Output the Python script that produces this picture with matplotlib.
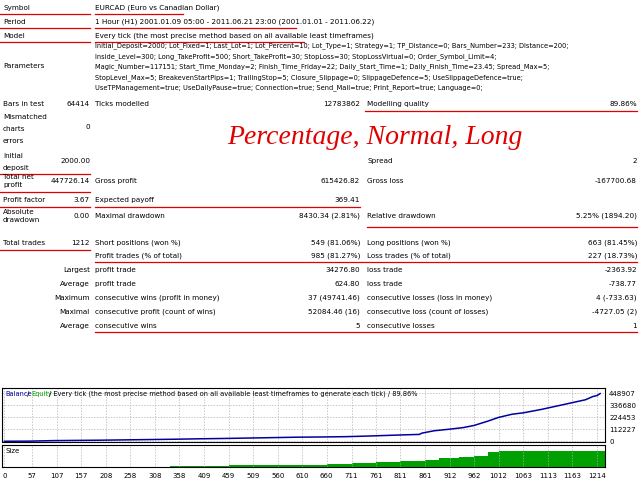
import numpy as np
import matplotlib.pyplot as plt
from matplotlib.lines import Line2D

W, H = 640, 480

# report rows: (label, value, y_px)
header_rows = [
    ("Symbol", "EURCAD (Euro vs Canadian Dollar)", 8),
    ("Period", "1 Hour (H1) 2001.01.09 05:00 - 2011.06.21 23:00 (2001.01.01 - 2011.06.22)", 22),
    ("Model", "Every tick (the most precise method based on all available least timeframes)", 36),
]
param_lines = [
    "Initial_Deposit=2000; Lot_Fixed=1; Last_Lot=1; Lot_Percent=10; Lot_Type=1; Strategy=1; TP_Distance=0; Bars_Number=233; Distance=200;",
    "Inside_Level=300; Long_TakeProfit=500; Short_TakeProfit=30; StopLoss=30; StopLossVirtual=0; Order_Symbol_Limit=4;",
    "Magic_Number=117151; Start_Time_Monday=2; Finish_Time_Friday=22; Daily_Start_Time=1; Daily_Finish_Time=23.45; Spread_Max=5;",
    "StopLevel_Max=5; BreakevenStartPips=1; TrailingStop=5; Closure_Slippage=0; SlippageDefence=5; UseSlippageDefence=true;",
    "UseTPManagement=true; UseDailyPause=true; Connection=true; Send_Mail=true; Print_Report=true; Language=0;",
]

# balance curve (trade number, balance)
bal_x = [0, 50, 100, 150, 200, 250, 300, 350, 400, 450, 500, 550, 600, 650, 700, 740, 780, 820, 850, 855,
         880, 912, 940, 962, 990, 1012, 1040, 1063, 1100, 1130, 1160, 1190, 1205, 1214, 1220]
bal_y = [2000, 3000, 8000, 10000, 12000, 15000, 18000, 21000, 25000, 28000, 32000, 36000, 40000, 42000, 45000,
         50000, 56000, 62000, 66000, 78000, 100000, 115000, 130000, 150000, 190000, 225000, 255000, 268000,
         300000, 330000, 360000, 390000, 420000, 430000, 448000]
size_x = [340, 459, 560, 660, 711, 761, 811, 861, 890, 930, 962, 990, 1012, 1230]
size_y = [0.05, 0.1, 0.15, 0.2, 0.25, 0.3, 0.35, 0.45, 0.55, 0.6, 0.7, 0.9, 1.0, 1.0]
y_ticks = [0, 112227, 224453, 336680, 448907]
x_ticks = [0, 57, 107, 157, 208, 258, 308, 358, 409, 459, 509, 560, 610, 660, 711, 761, 811, 861, 912, 962,
           1012, 1063, 1113, 1163, 1214]

fig = plt.figure(figsize=(6.4, 4.8), dpi=100)
fs = 5.2
red = "#e00000"

def t(x, y, s, **kw):
    kw.setdefault("fontsize", fs)
    kw.setdefault("va", "center")
    return fig.text(x / W, 1 - y / H, s, **kw)

def uline(x0, x1, y):
    fig.add_artist(Line2D([x0 / W, x1 / W], [1 - y / H] * 2, color=red, lw=0.9))

for lab, val, y in header_rows:
    t(3, y, lab)
    t(95, y, val)
    uline(0, 90, y + 6)
    uline(95, 95 + len(val) * 2.75, y + 6)
t(3, 66, "Parameters")
for i, s in enumerate(param_lines):
    t(95, 46 + i * 10.5, s, fontsize=4.75)

t(3, 104, "Bars in test"); t(90, 104, "64414", ha="right"); t(95, 104, "Ticks modelled")
t(360, 104, "12783862", ha="right"); t(367, 104, "Modelling quality"); t(637, 104, "89.86%", ha="right")
uline(365, 637, 111)
t(3, 117, "Mismatched"); t(3, 129, "charts"); t(3, 141, "errors"); t(90, 127, "0", ha="right")
fig.text(375 / W, 1 - 137 / H, "Percentage, Normal, Long", color="#e00000", fontsize=20,
         style="italic", family="Liberation Serif", ha="center", va="center")
t(3, 156, "Initial"); t(3, 168, "deposit"); t(90, 161, "2000.00", ha="right")
t(367, 161, "Spread"); t(637, 161, "2", ha="right")
uline(0, 90, 174)

rows = [
    (181, "Total net\nprofit", "447726.14", "Gross profit", "615426.82", "Gross loss", "-167700.68"),
    (200, "Profit factor", "3.67", "Expected payoff", "369.41", "", ""),
    (216, "Absolute\ndrawdown", "0.00", "Maximal drawdown", "8430.34 (2.81%)", "Relative drawdown", "5.25% (1894.20)"),
    (243, "Total trades", "1212", "Short positions (won %)", "549 (81.06%)", "Long positions (won %)", "663 (81.45%)"),
]
for y, a, b, c, d, e, f in rows:
    t(3, y, a, linespacing=1.3); t(90, y, b, ha="right"); t(95, y, c); t(360, y, d, ha="right")
    t(367, y, e); t(637, y, f, ha="right")
uline(0, 90, 192); uline(0, 90, 207); uline(95, 360, 207); uline(367, 637, 227)
uline(0, 90, 250)

stats = [
    ("", "Profit trades (% of total)", "985 (81.27%)", "Loss trades (% of total)", "227 (18.73%)"),
    ("Largest", "profit trade", "34276.80", "loss trade", "-2363.92"),
    ("Average", "profit trade", "624.80", "loss trade", "-738.77"),
    ("Maximum", "consecutive wins (profit in money)", "37 (49741.46)", "consecutive losses (loss in money)", "4 (-733.63)"),
    ("Maximal", "consecutive profit (count of wins)", "52084.46 (16)", "consecutive loss (count of losses)", "-4727.05 (2)"),
    ("Average", "consecutive wins", "5", "consecutive losses", "1"),
]
for i, (a, b, c, d, e) in enumerate(stats):
    y = 256 + i * 14
    t(90, y, a, ha="right"); t(95, y, b); t(360, y, c, ha="right"); t(367, y, d); t(637, y, e, ha="right")
uline(95, 637, 262); uline(95, 637, 332)

grid_kw = dict(color="#b0b0b0", ls=(0, (2, 2)), lw=0.5)
ax = fig.add_axes([2 / W, 1 - 442 / H, 603 / W, 54 / H])
ax.plot(bal_x, bal_y, color="#0000a0", lw=1.1)
ax.set_xlim(-5, 1230)
ax.set_ylim(-5000, 500000)
ax.set_yticks(y_ticks)
ax.set_xticks(x_ticks)
ax.yaxis.tick_right()
ax.tick_params(labelsize=5, length=0, labelbottom=False, pad=3)
ax.grid(True, **grid_kw)
t(5, 394, "Balance", color="#0000a0", fontsize=4.8)
t(27, 394, "/", fontsize=4.8)
t(31, 394, "Equity", color="#00a000", fontsize=4.8)
t(49, 394, "/ Every tick (the most precise method based on all available least timeframes to generate each tick) / 89.86%", fontsize=4.8)

ax2 = fig.add_axes([2 / W, 1 - 467 / H, 603 / W, 22 / H])
ax2.fill_between(size_x, size_y, step="post", color="#00a000", lw=0)
ax2.set_xlim(-5, 1230)
ax2.set_ylim(0, 1.35)
ax2.set_xticks(x_ticks)
ax2.set_yticks([])
ax2.tick_params(labelsize=5, length=0, pad=4)
ax2.grid(True, axis="x", **grid_kw)
t(5, 451, "Size", fontsize=5)

fig.savefig("out.png", dpi=100)
